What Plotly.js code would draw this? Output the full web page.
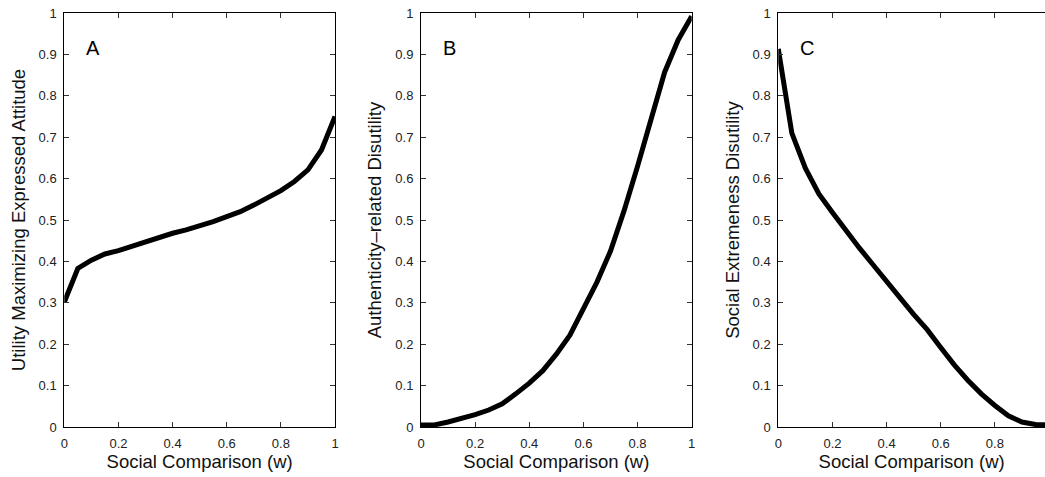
<!DOCTYPE html>
<html>
<head>
<meta charset="utf-8">
<script src="https://cdn.plot.ly/plotly-3.0.1.min.js"></script>
<style>html,body{margin:0;padding:0;background:#fff;}#chart{width:1045px;height:477px;}</style>
</head>
<body>
<div id="chart"></div>
<script>
const w = [0,0.05,0.1,0.15,0.2,0.25,0.3,0.35,0.4,0.45,0.5,0.55,0.6,0.65,0.7,0.75,0.8,0.85,0.9,0.95,1.0];
const attitudeA = [0.302,0.383,0.403,0.418,0.426,0.437,0.445,0.456,0.468,0.476,0.485,0.496,0.508,0.520,0.536,0.552,0.571,0.593,0.621,0.669,0.750];
const authenticityB = [0.005,0.005,0.012,0.020,0.030,0.041,0.056,0.080,0.106,0.136,0.176,0.222,0.284,0.350,0.425,0.522,0.630,0.744,0.857,0.935,0.992];
const extremenessC = [0.913,0.710,0.625,0.563,0.518,0.474,0.432,0.392,0.354,0.312,0.272,0.235,0.192,0.150,0.113,0.080,0.052,0.027,0.012,0.006,0.005];
const yTickVals = [0,0.1,0.2,0.3,0.4,0.5,0.6,0.7,0.8,0.9,1];
const yTickText = ["0","0.1","0.2","0.3","0.4","0.5","0.6","0.7","0.8","0.9","1"];
const xTickVals = [0,0.2,0.4,0.6,0.8,1];
const xTickText = ["0","0.2","0.4","0.6","0.8","1"];
const xTitle = "Social Comparison (w)";
const yTitles = ["Utility Maximizing Expressed Attitude","Authenticity\u2013related Disutility","Social Extremeness Disutility"];
const panelLabels = ["A","B","C"];

const W = 1045;
const FAM = "Liberation Sans, Arial, Helvetica, sans-serif";
const tickFont = {family:FAM, size:13, color:"#222"};
const titleFont = {family:FAM, size:18.5, color:"#111"};
const lineStyle = {color:"#000", width:5};

const traces = [
  {x:w, y:attitudeA, xaxis:"x", yaxis:"y", mode:"lines", line:lineStyle, hoverinfo:"skip"},
  {x:w, y:authenticityB, xaxis:"x2", yaxis:"y2", mode:"lines", line:lineStyle, hoverinfo:"skip"},
  {x:w, y:extremenessC, xaxis:"x3", yaxis:"y3", mode:"lines", line:lineStyle, hoverinfo:"skip"}
];

function xax(domain, range, anchor){
  return {domain:domain, range:range, anchor:anchor, tickvals:xTickVals, ticktext:xTickText,
    ticks:"inside", ticklen:5, tickcolor:"#333", showline:true, linecolor:"#000", linewidth:1,
    mirror:"ticks", showgrid:false, zeroline:false, tickfont:tickFont, ticklabelstandoff:4,
    title:{text:xTitle, font:titleFont, standoff:4}, fixedrange:true};
}
function yax(anchor, title, mirror){
  return {domain:[0,1], range:[0,1], anchor:anchor, tickvals:yTickVals, ticktext:yTickText,
    ticks:"inside", ticklen:5, tickcolor:"#333", showline:true, linecolor:"#000", linewidth:1,
    mirror:mirror, showgrid:false, zeroline:false, tickfont:tickFont, ticklabelstandoff:4,
    title:{text:title, font:titleFont, standoff:8}, fixedrange:true};
}
const dA = [64.3/W, 335/W], dB = [421/W, 691.7/W], dC = [778.3/W, 1];
const cMax = (W-778.3)/(335-64.3);

const annotations = panelLabels.map((t,i)=>({
  text:t, xref:"x"+(i?i+1:""), yref:"y"+(i?i+1:""), x:0.106, y:0.915,
  showarrow:false, font:{family:FAM, size:20, color:"#000"},
  xanchor:"center", yanchor:"middle"
}));

const layout = {
  width:1045, height:477, margin:{l:0, r:0, t:13, b:50},
  paper_bgcolor:"#fff", plot_bgcolor:"#fff", showlegend:false,
  xaxis:xax(dA,[0,1],"y"), yaxis:yax("x",yTitles[0],"ticks"),
  xaxis2:xax(dB,[0,1],"y2"), yaxis2:yax("x2",yTitles[1],"ticks"),
  xaxis3:xax(dC,[0,cMax],"y3"), yaxis3:yax("x3",yTitles[2],false),
  annotations:annotations
};
Plotly.newPlot("chart", traces, layout, {displayModeBar:false, staticPlot:true});
</script>
</body>
</html>
